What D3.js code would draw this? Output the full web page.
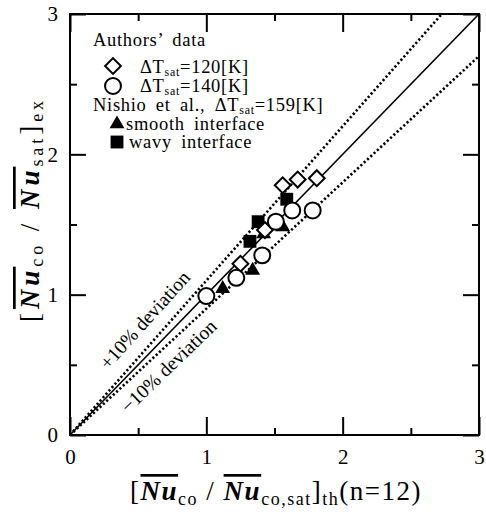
<!DOCTYPE html>
<html>
<head>
<meta charset="utf-8">
<script src="https://cdn.jsdelivr.net/npm/d3@7"></script>
<style>
  html, body { margin: 0; padding: 0; background: #fff; }
  svg text { font-family: "Liberation Serif", "Times New Roman", serif; fill: #000; }
</style>
</head>
<body>
<div id="chart"></div>
<script>
// data
const authors120 = [[1.25, 1.22], [1.43, 1.46], [1.56, 1.78], [1.67, 1.82], [1.81, 1.83]];
const authors140 = [[1.00, 0.99], [1.22, 1.12], [1.41, 1.28], [1.51, 1.52], [1.63, 1.60], [1.78, 1.60]];
const nishioSmooth = [[1.12, 1.05], [1.34, 1.18], [1.42, 1.44], [1.56, 1.49]];
const nishioWavy = [[1.32, 1.38], [1.38, 1.52], [1.59, 1.68]];

const majorTicks = [0, 1, 2, 3];
const minorTicks = [0.5, 1.5, 2.5];
const refSlopes = [1, 1.1, 0.9];

const width = 486, height = 512;
const svg = d3.select('#chart').append('svg')
  .attr('width', width)
  .attr('height', height);

const x = d3.scaleLinear().domain([0, 3]).range([70, 479]);
const y = d3.scaleLinear().domain([0, 3]).range([435, 14]);

// reference lines y = k x, clipped to the box
let lines = svg.append('g');
refSlopes.forEach(k => {
  let xe = Math.min(3, 3 / k);
  lines.append('line')
    .attr('x1', x(0)).attr('y1', y(0))
    .attr('x2', x(xe)).attr('y2', y(k * xe))
    .attr('stroke', '#000')
    .attr('stroke-width', k === 1 ? 1.6 : 2.6)
    .attr('stroke-dasharray', k === 1 ? null : '2.2 2.3');
});

// frame
svg.append('rect')
  .attr('x', x(0)).attr('y', y(3))
  .attr('width', x(3) - x(0)).attr('height', y(0) - y(3))
  .attr('fill', 'none').attr('stroke', '#000').attr('stroke-width', 2);

// inward ticks on all four sides
function ticks(axisFn, vals, len, transform) {
  let g = svg.append('g').attr('transform', transform)
    .call(axisFn.tickValues(vals).tickSize(-len).tickFormat(''));
  g.select('.domain').remove();
  g.selectAll('line').attr('stroke-width', 2);
}
ticks(d3.axisBottom(x), majorTicks, 18, `translate(0,${y(0)})`);
ticks(d3.axisBottom(x), minorTicks, 7, `translate(0,${y(0)})`);
ticks(d3.axisTop(x), majorTicks, 18, `translate(0,${y(3)})`);
ticks(d3.axisTop(x), minorTicks, 7, `translate(0,${y(3)})`);
ticks(d3.axisLeft(y), majorTicks, 16, `translate(${x(0)},0)`);
ticks(d3.axisLeft(y), minorTicks, 7, `translate(${x(0)},0)`);
ticks(d3.axisRight(y), majorTicks, 16, `translate(${x(3)},0)`);
ticks(d3.axisRight(y), minorTicks, 7, `translate(${x(3)},0)`);

// tick labels
let xl = svg.append('g').attr('transform', `translate(0,${y(0)})`)
  .call(d3.axisBottom(x).tickValues(majorTicks).tickSize(0).tickPadding(14).tickFormat(d3.format('d')));
xl.select('.domain').remove();
let yl = svg.append('g').attr('transform', `translate(${x(0)},0)`)
  .call(d3.axisLeft(y).tickValues(majorTicks).tickSize(0).tickPadding(12).tickFormat(d3.format('d')));
yl.select('.domain').remove();
svg.selectAll('.tick text')
  .attr('font-family', '"Liberation Serif", serif')
  .attr('font-size', 21)
  .attr('fill', '#000');

// markers
const diamond = d3.symbol().type(d3.symbolSquare).size(125);
const circle = d3.symbol().type(d3.symbolCircle).size(200);
const triangle = d3.symbol().type(d3.symbolTriangle).size(95);
const square = d3.symbol().type(d3.symbolSquare).size(165);

let pts = svg.append('g');
pts.selectAll('path.wavy').data(nishioWavy).join('path')
  .attr('class', 'wavy')
  .attr('d', square)
  .attr('transform', d => `translate(${x(d[0])},${y(d[1])})`)
  .attr('fill', '#000');
pts.selectAll('path.smooth').data(nishioSmooth).join('path')
  .attr('class', 'smooth')
  .attr('d', triangle)
  .attr('transform', d => `translate(${x(d[0])},${y(d[1]) + 1})`)
  .attr('fill', '#000');
pts.selectAll('path.a120').data(authors120).join('path')
  .attr('class', 'a120')
  .attr('d', diamond)
  .attr('transform', d => `translate(${x(d[0])},${y(d[1])}) rotate(45)`)
  .attr('fill', '#fff').attr('stroke', '#000').attr('stroke-width', 2);
pts.selectAll('path.a140').data(authors140).join('path')
  .attr('class', 'a140')
  .attr('d', circle)
  .attr('transform', d => `translate(${x(d[0])},${y(d[1])})`)
  .attr('fill', '#fff').attr('stroke', '#000').attr('stroke-width', 2);

// legend
let leg = svg.append('g').attr('font-size', 18.5).style('letter-spacing', '0.7px').style('word-spacing', '4px');
leg.append('text').attr('x', 93).attr('y', 46).text('Authors\u2019 data');

function dT(row, val, tx) {
  let t = leg.append('text').attr('x', tx).attr('y', row);
  t.append('tspan').text('\u0394T');
  t.append('tspan').attr('font-size', 12).attr('dy', 3).text('sat');
  t.append('tspan').attr('dy', -3).text(val);
  return t;
}
leg.append('path').attr('d', diamond).attr('transform', 'translate(113,66) rotate(45)')
  .attr('fill', '#fff').attr('stroke', '#000').attr('stroke-width', 2);
dT(73, '=120[K]', 140);
leg.append('path').attr('d', circle).attr('transform', 'translate(113,86)')
  .attr('fill', '#fff').attr('stroke', '#000').attr('stroke-width', 2);
dT(92, '=140[K]', 140);

let ni = leg.append('text').attr('x', 93).attr('y', 111);
ni.append('tspan').text('Nishio et al., \u0394T');
ni.append('tspan').attr('font-size', 12).attr('dy', 3).text('sat');
ni.append('tspan').attr('dy', -3).text('=159[K]');

leg.append('path').attr('d', triangle).attr('transform', 'translate(117,124)').attr('fill', '#000');
leg.append('text').attr('x', 126).attr('y', 130).text('smooth interface');
leg.append('path').attr('d', square).attr('transform', 'translate(117,142)').attr('fill', '#000');
leg.append('text').attr('x', 129).attr('y', 148).text('wavy interface');

// deviation labels
svg.append('text')
  .attr('transform', `translate(${x(0.28)},${y(0.46)}) rotate(-48)`)
  .attr('font-size', 19.5).text('+10% deviation');
svg.append('text')
  .attr('transform', `translate(${x(0.43)},${y(0.15)}) rotate(-44)`)
  .attr('font-size', 19.5).text('\u221210% deviation');

// axis titles with overlined Nu
function nuTitle(g, parts) {
  let t = g.append('text').attr('font-size', 27);
  parts.forEach(p => {
    let s = t.append('tspan').text(p.t);
    if (p.nu) s.attr('font-style', 'italic').attr('font-weight', 'bold').style('text-decoration', 'overline');
    if (p.sub) s.attr('font-size', 18).attr('dy', p.dy);
    else if (p.dy) s.attr('dy', p.dy);
  });
  return t;
}
function fitText(t, target) {
  let n = t.text().length;
  let len = t.node().getComputedTextLength();
  t.style('letter-spacing', Math.max(0, (target - len) / n) + 'px');
}

let xt = nuTitle(svg.append('g').attr('transform', 'translate(130,500)'), [
  {t: '['}, {t: 'Nu', nu: true}, {t: 'co', sub: true, dy: 5}, {t: ' / ', dy: -5},
  {t: 'Nu', nu: true}, {t: 'co,sat', sub: true, dy: 5}, {t: ']', dy: -5},
  {t: 'th', sub: true, dy: 5}, {t: '(n=12)', dy: -5}
]);
fitText(xt, 292);

let yt = nuTitle(svg.append('g').attr('transform', 'translate(39,322) rotate(-90)'), [
  {t: '['}, {t: 'Nu', nu: true}, {t: 'co', sub: true, dy: 4}, {t: ' / ', dy: -4},
  {t: 'Nu', nu: true}, {t: 'sat', sub: true, dy: 4}, {t: ']', dy: -4},
  {t: 'ex', sub: true, dy: 4}
]);
fitText(yt, 225);
</script>
</body>
</html>
